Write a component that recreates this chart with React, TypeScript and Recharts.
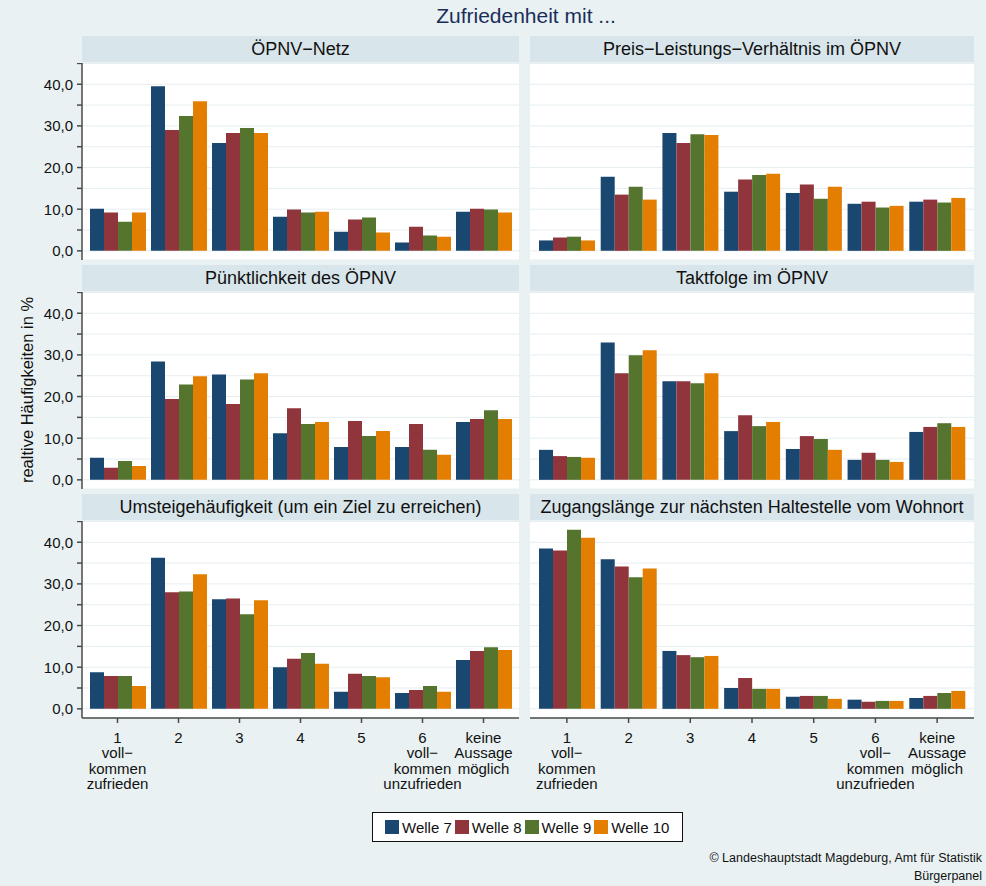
import React from "react";
import { BarChart, Bar, XAxis, YAxis, CartesianGrid } from "recharts";

const categories = ["1", "2", "3", "4", "5", "6", "keine Aussage möglich"];
const categoryLabels: string[][] = [
  ["1", "voll−", "kommen", "zufrieden"],
  ["2"],
  ["3"],
  ["4"],
  ["5"],
  ["6", "voll−", "kommen", "unzufrieden"],
  ["keine", "Aussage", "möglich"],
];
const waves = ["Welle 7", "Welle 8", "Welle 9", "Welle 10"];
const waveColors = ["#1a476f", "#90353b", "#55752f", "#e37e00"];
const yTicks = [0, 5, 10, 15, 20, 25, 30, 35, 40, 45];

// one row per wave (7, 8, 9, 10), one value per category
const oepnvNetz = [
  [10.1, 39.5, 25.9, 8.2, 4.6, 2.0, 9.4],
  [9.2, 29.0, 28.3, 9.9, 7.5, 5.8, 10.1],
  [7.0, 32.4, 29.5, 9.2, 8.0, 3.7, 9.9],
  [9.2, 35.9, 28.3, 9.4, 4.4, 3.4, 9.2],
];
const preisLeistung = [
  [2.5, 17.8, 28.3, 14.2, 13.9, 11.3, 11.8],
  [3.2, 13.5, 25.9, 17.1, 15.9, 11.8, 12.3],
  [3.4, 15.4, 28.0, 18.2, 12.5, 10.4, 11.6],
  [2.5, 12.3, 27.8, 18.5, 15.4, 10.8, 12.7],
];
const puenktlichkeit = [
  [5.3, 28.4, 25.3, 11.2, 7.9, 7.9, 13.9],
  [2.9, 19.4, 18.2, 17.2, 14.1, 13.4, 14.6],
  [4.5, 22.9, 24.1, 13.4, 10.5, 7.2, 16.7],
  [3.3, 24.9, 25.6, 13.9, 11.7, 6.0, 14.6],
];
const taktfolge = [
  [7.2, 33.0, 23.7, 11.7, 7.4, 4.8, 11.5],
  [5.7, 25.6, 23.7, 15.5, 10.5, 6.5, 12.7],
  [5.5, 29.9, 23.2, 12.9, 9.8, 4.8, 13.6],
  [5.3, 31.1, 25.6, 13.9, 7.2, 4.3, 12.7],
];
const umsteigen = [
  [8.8, 36.3, 26.3, 10.0, 4.1, 3.8, 11.7],
  [7.9, 28.0, 26.5, 12.0, 8.4, 4.5, 13.9],
  [7.9, 28.2, 22.7, 13.4, 7.9, 5.5, 14.8],
  [5.5, 32.3, 26.1, 10.8, 7.6, 4.1, 14.1],
];
const zugangslaenge = [
  [38.5, 35.9, 13.9, 5.0, 2.9, 2.2, 2.6],
  [38.0, 34.2, 12.9, 7.4, 3.1, 1.7, 3.1],
  [43.0, 31.6, 12.4, 4.8, 3.1, 1.9, 3.8],
  [41.1, 33.7, 12.7, 4.8, 2.4, 1.9, 4.3],
];

const panels = [
  { title: "ÖPNV−Netz", values: oepnvNetz },
  { title: "Preis−Leistungs−Verhältnis im ÖPNV", values: preisLeistung },
  { title: "Pünktlichkeit des ÖPNV", values: puenktlichkeit },
  { title: "Taktfolge im ÖPNV", values: taktfolge },
  { title: "Umsteigehäufigkeit (um ein Ziel zu erreichen)", values: umsteigen },
  { title: "Zugangslänge zur nächsten Haltestelle vom Wohnort", values: zugangslaenge },
];

const FONT = '"Liberation Sans", Arial, sans-serif';
const BG = "#e9f1f3";
const STRIP = "#d8e5eb";
const AXIS = "#4a4a4a";
const PLOT_TOPS = [63, 292, 521];
const PLOT_H = 197;

const fmtY = (v: number) => (v % 10 === 0 ? v.toFixed(1).replace(".", ",") : "");

function CatTick(props: any) {
  const { x, y, payload } = props;
  const lines = categoryLabels[categories.indexOf(payload.value)] || [payload.value];
  return (
    <text x={x} y={y} textAnchor="middle" fontSize={15} fill="#111" fontFamily={FONT}>
      {lines.map((l, i) => (
        <tspan key={i} x={x} dy={i === 0 ? 18 : 15.3}>
          {l}
        </tspan>
      ))}
    </text>
  );
}

function Panel({ title, values, col, row }: { title: string; values: number[][]; col: number; row: number }) {
  const left = col === 0;
  const bottom = row === 2;
  const plotLeft = left ? 82 : 530;
  const plotRight = left ? 519 : 974;
  const chartLeft = left ? 0 : 530;
  const plotTop = PLOT_TOPS[row];
  const pad = left ? 5 : 6;
  const data = categories.map((c, i) => ({
    cat: c,
    w0: values[0][i],
    w1: values[1][i],
    w2: values[2][i],
    w3: values[3][i],
  }));

  return (
    <>
      <div
        style={{
          position: "absolute",
          left: plotLeft,
          top: plotTop - 27,
          width: plotRight - plotLeft,
          height: 26,
          background: STRIP,
          fontSize: 18,
          lineHeight: "26px",
          textAlign: "center",
          whiteSpace: "nowrap",
          color: "#111",
        }}
      >
        {title}
      </div>
      <div style={{ position: "absolute", left: chartLeft, top: plotTop }}>
        <BarChart
          width={plotRight - chartLeft}
          height={PLOT_H + (bottom ? 75 : 0)}
          data={data}
          margin={{ top: 0, right: 0, bottom: 0, left: 0 }}
          barCategoryGap={3}
          barGap={0}
        >
          <CartesianGrid vertical={false} stroke="#e6eef1" fill="#ffffff" />
          <XAxis
            dataKey="cat"
            hide={!bottom}
            height={75}
            interval={0}
            padding={{ left: pad, right: pad }}
            tickSize={5}
            tickMargin={2}
            tick={<CatTick />}
            axisLine={{ stroke: AXIS, strokeWidth: 1.5 }}
            tickLine={{ stroke: AXIS, strokeWidth: 1.5 }}
          />
          <YAxis
            hide={!left}
            width={left ? 82 : 0}
            type="number"
            domain={[-2.2, 45.1]}
            allowDataOverflow
            ticks={yTicks}
            interval={0}
            tickFormatter={fmtY}
            tickSize={5}
            tickMargin={4}
            tick={{ fontSize: 15, fill: "#111", fontFamily: FONT }}
            axisLine={{ stroke: AXIS, strokeWidth: 1.5 }}
            tickLine={{ stroke: AXIS, strokeWidth: 1.5 }}
          />
          {waves.map((w, i) => (
            <Bar key={w} dataKey={`w${i}`} name={w} fill={waveColors[i]} isAnimationActive={false} />
          ))}
        </BarChart>
      </div>
    </>
  );
}

export default function App() {
  return (
    <div
      style={{
        position: "absolute",
        left: 0,
        top: 0,
        width: 986,
        height: 886,
        background: BG,
        fontFamily: FONT,
        overflow: "hidden",
      }}
    >
      <div
        style={{
          position: "absolute",
          left: 0,
          width: 1052,
          top: 4,
          textAlign: "center",
          fontSize: 21,
          lineHeight: "24px",
          color: "#1a2e5a",
        }}
      >
        Zufriedenheit mit ...
      </div>

      {panels.map((p, i) => (
        <Panel key={p.title} title={p.title} values={p.values} col={i % 2} row={Math.floor(i / 2)} />
      ))}

      <div
        style={{
          position: "absolute",
          left: 27,
          top: 390,
          transform: "translate(-50%, -50%) rotate(-90deg)",
          whiteSpace: "nowrap",
          fontSize: 16.5,
          color: "#111",
        }}
      >
        realtive Häufigkeiten in %
      </div>

      <div
        style={{
          position: "absolute",
          left: 372,
          top: 812,
          width: 297,
          height: 28,
          background: "#fff",
          border: "1px solid #111",
          display: "flex",
          alignItems: "center",
          paddingLeft: 12,
          boxSizing: "content-box",
          fontSize: 15,
          color: "#111",
          whiteSpace: "nowrap",
        }}
      >
        {waves.map((w, i) => (
          <div key={w} style={{ display: "flex", alignItems: "center", marginRight: 3 }}>
            <span style={{ width: 14, height: 14, background: waveColors[i], marginRight: 3 }} />
            <span>{w}</span>
          </div>
        ))}
      </div>

      <div
        style={{
          position: "absolute",
          right: 4,
          top: 849,
          textAlign: "right",
          fontSize: 12.5,
          lineHeight: "18px",
          color: "#111",
        }}
      >
        © Landeshauptstadt Magdeburg, Amt für Statistik
        <br />
        Bürgerpanel
      </div>
    </div>
  );
}
